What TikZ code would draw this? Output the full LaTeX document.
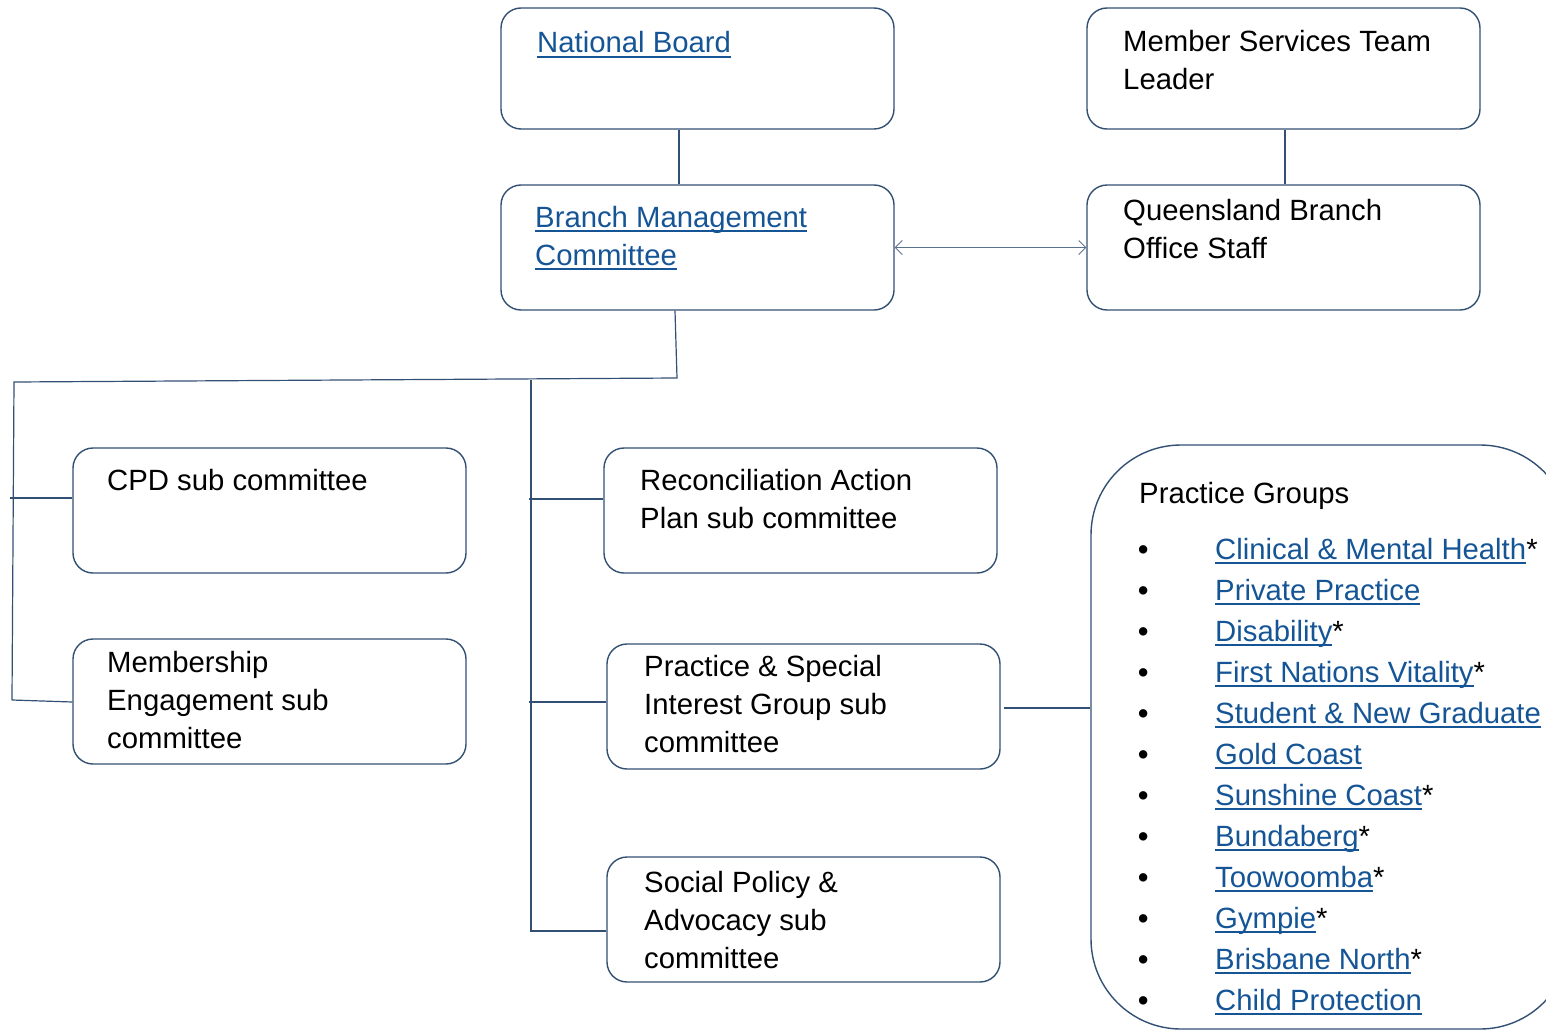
\documentclass[tikz,border=0pt]{standalone}
\usepackage{fontspec}
\setmainfont{Liberation Sans}
\usetikzlibrary{arrows.meta}
\definecolor{lk}{RGB}{21,85,150}
\definecolor{bd}{RGB}{50,80,115}
\newsavebox\lnkbox
\newcommand\lnk[1]{{\color{lk}\sbox\lnkbox{#1}\rlap{\rule[-5pt]{\wd\lnkbox}{2.2pt}}\usebox\lnkbox}}
\tikzset{
  box/.style={draw=bd, line width=1.4pt, rounded corners=20pt, minimum width=393pt, minimum height=125pt, inner sep=0pt},
  txt/.style={anchor=base west, inner sep=0pt, align=left, font=\fontsize{29.3}{38}\selectfont},
  conn/.style={draw=bd, line width=1.2pt},
}
\begin{document}
\begin{tikzpicture}[x=1pt,y=-1pt]
\useasboundingbox (0,0) rectangle (1546,1030);
\clip (0,0) rectangle (1546,1030);
% boxes
\node[box, minimum height=121pt] (nb) at (697.5,68.5) {};
\node[box, minimum height=121pt] (ms) at (1283.5,68.5) {};
\node[box] (bm) at (697.5,247.5) {};
\node[box] (qb) at (1283.5,247.5) {};
\node[box] (cpd) at (269.5,510.5) {};
\node[box] (mem) at (269.5,701.5) {};
\node[box] (rec) at (800.5,510.5) {};
\node[box] (psig) at (803.5,706.5) {};
\node[box] (spa) at (803.5,919.5) {};
\node[draw=bd, line width=1.4pt, rounded corners=90pt, minimum width=479pt, minimum height=584pt, inner sep=0pt] (pg) at (1330.5,737) {};
% texts (base = baseline of last line)
\node[txt] (tnb) at (537,53) {\lnk{National Board}};
\node[txt] (tms) at (1123,90) {Member Services Team\\Leader};
\node[txt] (tbm) at (535,265) {\lnk{Branch Management}\\\lnk{Committee}};
\node[txt] (tqb) at (1123,258) {Queensland Branch\\Office Staff};
\node[txt] (tcpd) at (107,490) {CPD sub committee};
\node[txt] (tmem) at (107,748) {Membership\\Engagement sub\\committee};
\node[txt] (trec) at (640,528) {Reconciliation Action\\Plan sub committee};
\node[txt] (tpsig) at (644,752) {Practice \& Special\\Interest Group sub\\committee};
\node[txt] (tspa) at (644,968) {Social Policy \&\\Advocacy sub\\committee};
\node[txt] (tpg) at (1139,503) {Practice Groups};
\foreach \i/\t [count=\n from 0] in {
  cmh/{\lnk{Clinical \& Mental Health}*},
  pp/{\lnk{Private Practice}},
  dis/{\lnk{Disability}*},
  fnv/{\lnk{First Nations Vitality}*},
  sng/{\lnk{Student \& New Graduate}},
  gc/{\lnk{Gold Coast}},
  sc/{\lnk{Sunshine Coast}*},
  bun/{\lnk{Bundaberg}*},
  too/{\lnk{Toowoomba}*},
  gym/{\lnk{Gympie}*},
  bn/{\lnk{Brisbane North}*},
  cp/{\lnk{Child Protection}}} {
  \node[txt] (b-\i) at (1138,{559+41*\n}) {\bfseries •};
  \node[txt] (g-\i) at (1215,{559+41*\n}) {\t};
}
% connectors
\draw[conn] (nb.south -| 679,0) -- (bm.north -| 679,0);
\draw[conn] (ms.south -| 1285,0) -- (qb.north -| 1285,0);
\draw[draw=bd!80, line width=0.8pt, {Straight Barb[length=7pt,width=14pt]}-{Straight Barb[length=7pt,width=14pt]}] (bm.east) -- (qb.west);
\coordinate (j1) at (677,378);
\coordinate (j2) at (14,382);
\coordinate (j3) at (531,380);
\coordinate (j4) at (12,700);
\coordinate (j5) at (531,931);
\draw[conn] (bm.south -| 675,0) -- (j1) -- (j2) -- (j4);
\draw[conn] (j3) -- (j5) -- (spa.west |- j5);
\draw[conn] (10,498) -- (cpd.west |- 0,498);
\draw[conn] (j4) -- (mem.west |- 0,702);
\draw[conn] (529,499) -- (rec.west |- 0,499);
\draw[conn] (529,702) -- (psig.west |- 0,702);
\draw[conn] (1004,708) -- (pg.west |- 0,708);
\end{tikzpicture}
\end{document}
